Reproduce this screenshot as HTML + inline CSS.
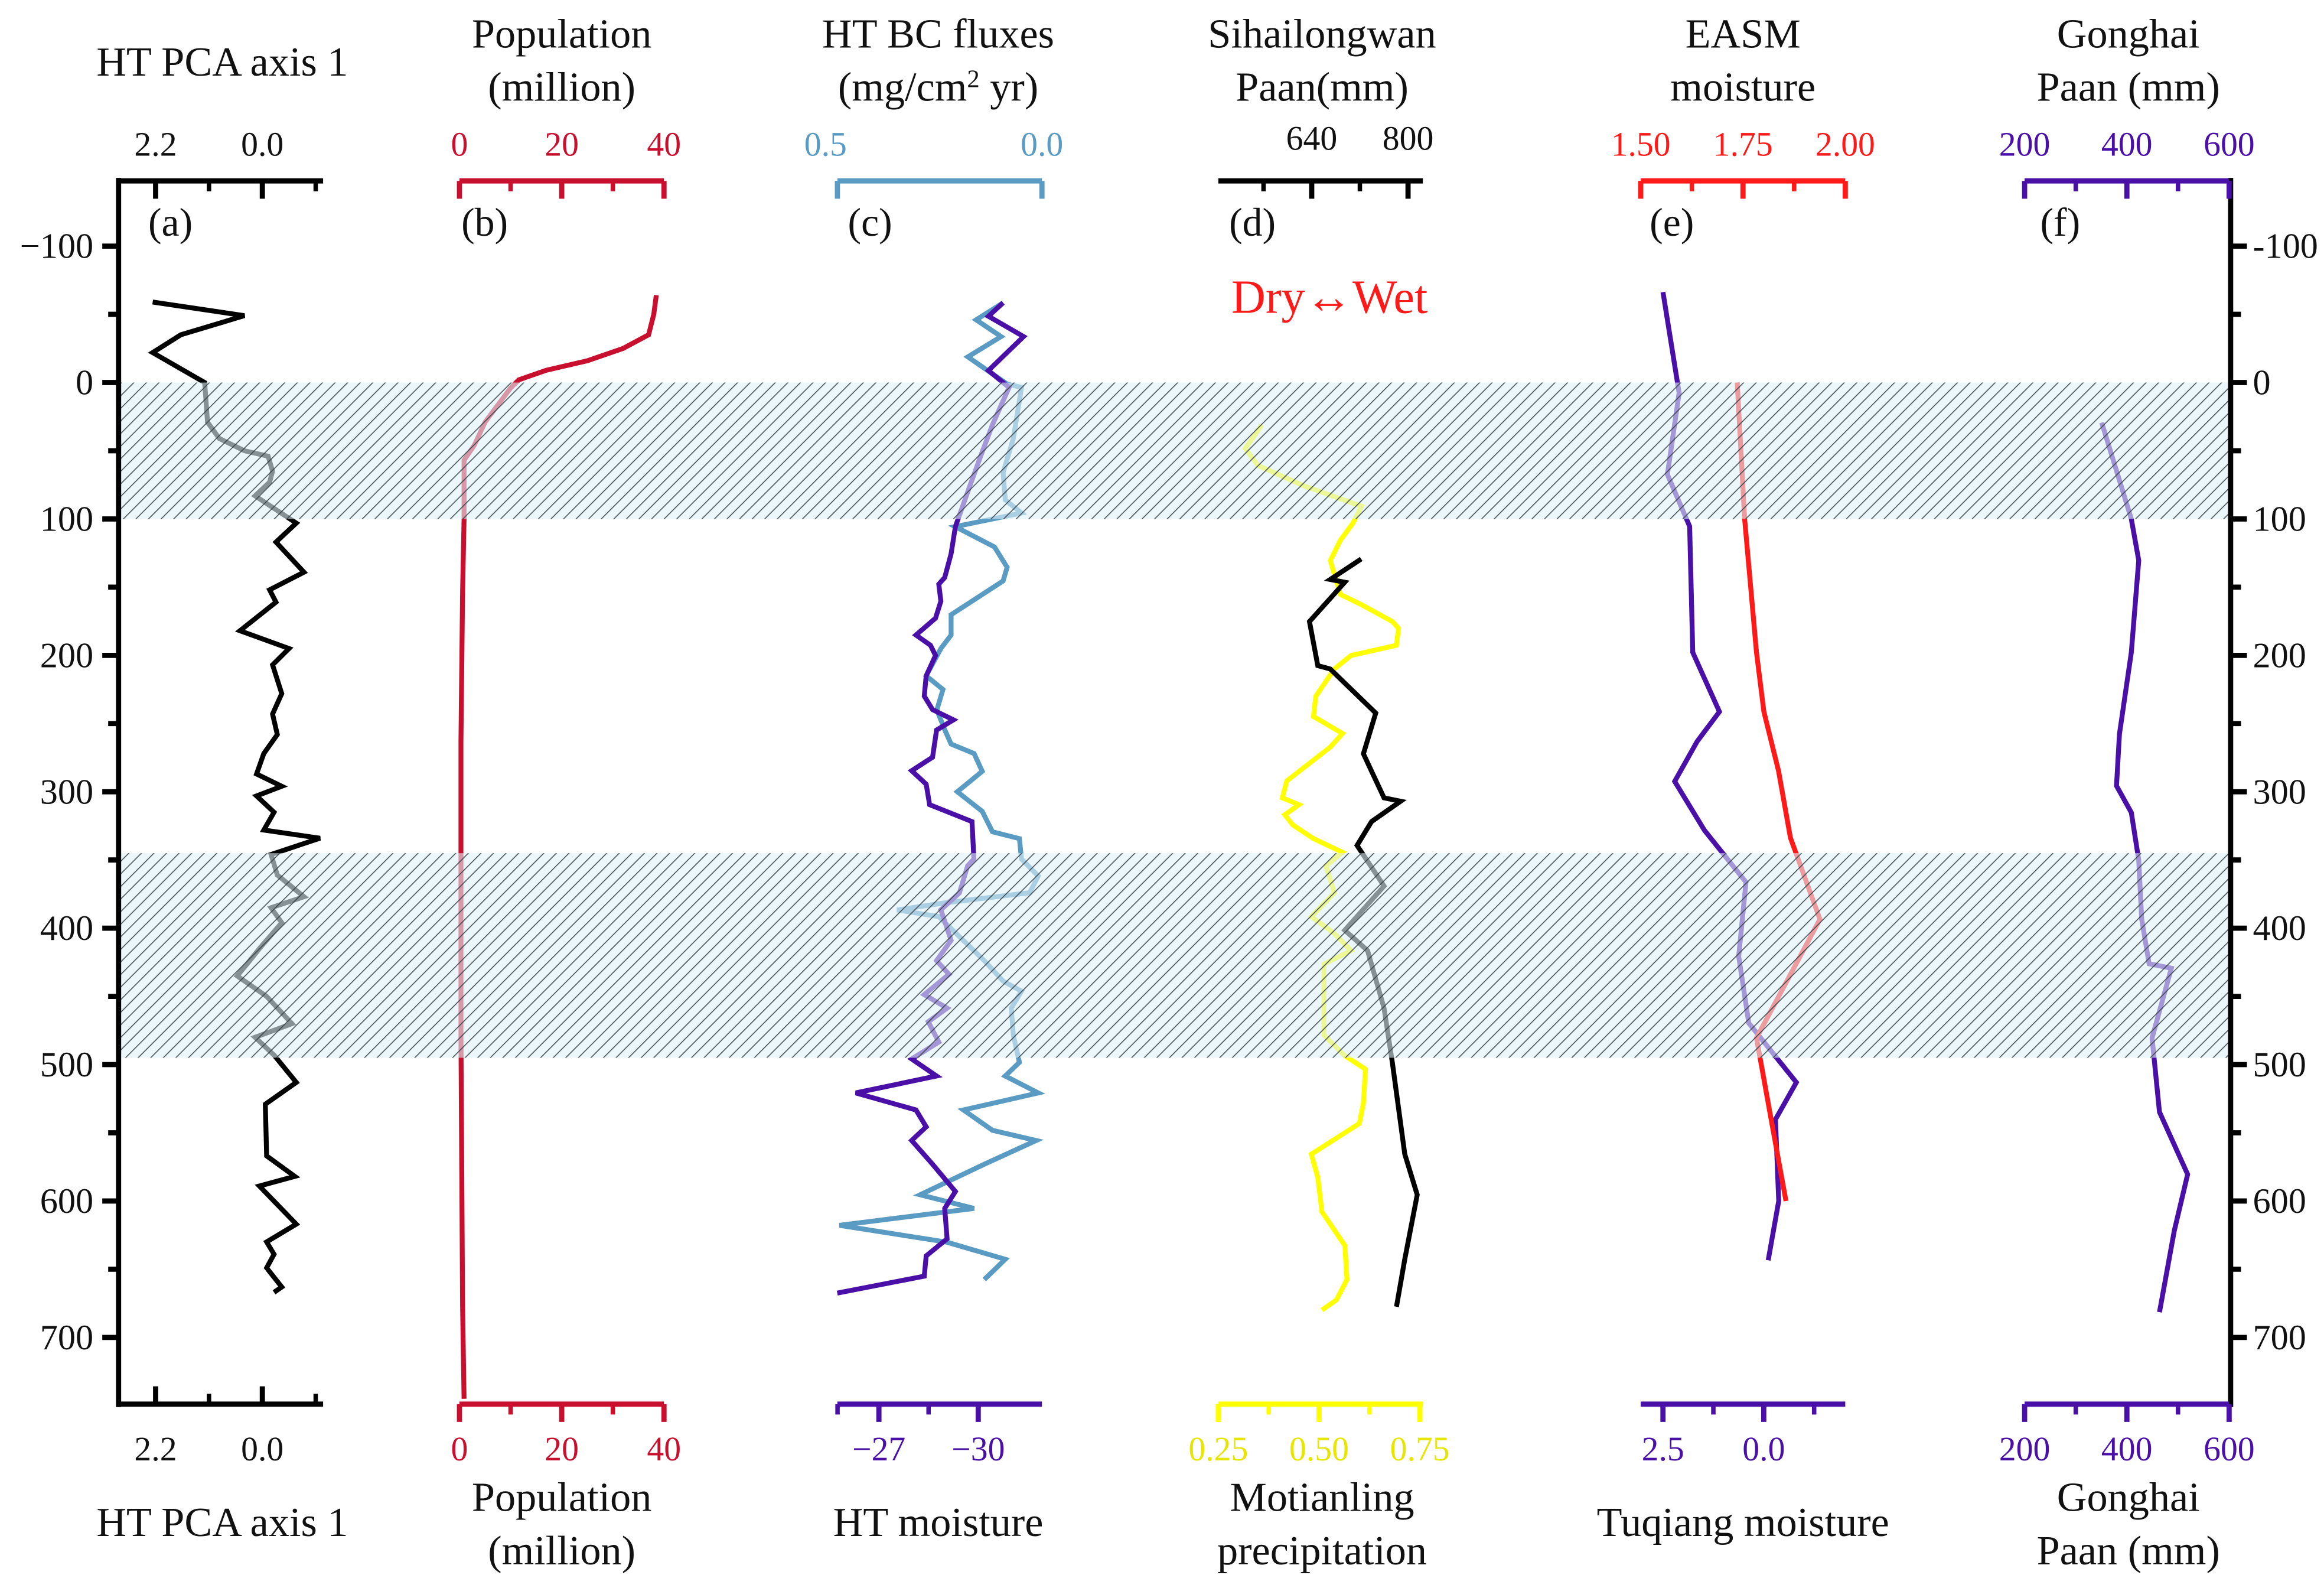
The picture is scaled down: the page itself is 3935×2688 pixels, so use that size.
<!DOCTYPE html>
<html><head><meta charset="utf-8">
<style>
html,body{margin:0;padding:0;background:#fff;}
svg{display:block;font-family:"Liberation Serif",serif;}
</style></head>
<body>
<svg id="chart" xmlns="http://www.w3.org/2000/svg" width="3935" height="2688" viewBox="0 0 1568 1071" preserveAspectRatio="none">
<defs>
<pattern id="hatch" patternUnits="userSpaceOnUse" width="6" height="6" patternTransform="rotate(45)">
<line x1="0" y1="0" x2="0" y2="6" stroke="#2f3a40" stroke-width="1.3"/>
</pattern>
</defs>
<g id="marks"></g>
<g id="bands"></g>
<g id="axes"></g>
<g id="labels"></g>
</svg>
<script>
// ---- data (depth = year axis, values in native units) ----
const pcaDepth=[-59,-49,-35,-22,0,29,41,50,54,65,73,83,103,117,139,152,161,182,195,207,228,243,258,272,287,296,303,315,328,334,346,361,377,385,396,415,426,435,450,470,480,493,513,529,567,582,589,617,630,639,649,663,667];
const pcaVal=[2.26,0.37,1.68,2.26,1.19,1.13,0.89,0.37,-0.12,-0.21,-0.15,0.15,-0.70,-0.28,-0.86,-0.15,-0.28,0.46,-0.55,-0.21,-0.40,-0.21,-0.31,-0.03,0.12,-0.40,0.12,-0.24,-0.03,-1.19,-0.18,-0.31,-0.86,-0.18,-0.40,0.06,0.31,0.52,-0.09,-0.61,0.15,-0.24,-0.70,-0.06,-0.09,-0.67,0.06,-0.70,-0.09,-0.24,-0.09,-0.40,-0.24];
const popDepth=[-64,-50,-35,-25,-16,-9,-2,4,18,29,46,57,100,154,263,480,676,745];
const popVal=[38.5,38,37,32,25,17,11.6,10,7.2,5,2.9,0.9,0.9,0.6,0.3,0.3,0.6,0.9];
const bcDepth=[-58.5,-46,-33.7,-18.8,1.1,3.6,41,66,86,95.6,105.6,120.5,135.4,145.4,170.2,185.1,195,215,225,240,255,265,272,285,300,314.4,329.4,334.3,349.3,361.7,374,381.6,386.6,391.5,409,423.8,438.8,446.2,458.6,478.5,498.4,508.4,520.8,533.3,548.2,555.6,573,595.4,605.4,617.8,630.2,642.7,657.6];
const bcVal=[0.095,0.161,0.100,0.181,0.085,0.050,0.070,0.095,0.090,0.050,0.212,0.116,0.085,0.095,0.222,0.222,0.247,0.283,0.242,0.257,0.237,0.222,0.166,0.146,0.207,0.146,0.121,0.055,0.050,0.009,0.030,0.242,0.354,0.252,0.192,0.141,0.095,0.050,0.075,0.070,0.055,0.090,0.009,0.192,0.121,0.014,0.141,0.298,0.166,0.495,0.232,0.090,0.141];
const htmDepth=[-58.5,-48.6,-33.7,-8.8,3.6,31,50.9,75.7,105.6,125.5,142.9,147.8,160.3,172.7,185.1,192.6,200.1,215,229.9,239.8,247.3,254.8,274.7,284.6,294.5,309.5,321.9,349.3,354.2,374.1,386.5,408.9,423.8,433.8,448.7,458.6,468.6,483.5,495.9,508.4,520.8,533.3,545.7,555.6,573,593,605.4,627.7,640.2,655.1,667.5];
const htmVal=[-30.75,-30.31,-31.37,-30.31,-30.93,-30.43,-30.12,-29.75,-29.31,-29.18,-28.99,-28.81,-28.87,-28.71,-28.12,-28.56,-28.71,-28.43,-28.37,-28.62,-29.25,-28.74,-28.62,-27.99,-28.43,-28.53,-29.81,-29.87,-29.68,-29.43,-28.87,-29.18,-28.74,-29.12,-28.37,-29.06,-28.49,-28.81,-27.99,-28.74,-26.30,-28.12,-28.43,-27.99,-28.62,-29.31,-28.99,-29.06,-28.43,-28.37,-25.74];
const motDepth=[31,48.4,60.8,75.7,90.7,103.1,115.5,130.4,140.4,155.3,162.8,175.2,180.2,192.6,200.1,210,229.9,244.8,257.3,267.2,292.1,304.5,309.5,316.9,324.4,334.3,344.3,354.2,374.1,391.5,403.9,416.4,426.3,453.7,478.5,493.5,503.4,528.3,543.2,565.6,583,607.8,632.7,657.6,672.5,680];
const motVal=[0.358,0.317,0.348,0.461,0.605,0.584,0.553,0.528,0.538,0.553,0.605,0.682,0.697,0.692,0.579,0.538,0.492,0.486,0.558,0.528,0.420,0.409,0.450,0.415,0.435,0.486,0.558,0.517,0.538,0.481,0.538,0.579,0.512,0.512,0.512,0.564,0.615,0.610,0.600,0.481,0.497,0.507,0.564,0.569,0.543,0.507];
const sihDepth=[129.4,144.4,146.4,175.2,207.5,210,242.3,272.2,304.5,307,321.9,339.3,369.1,401.5,416.4,458.6,498.4,565.6,595.4,642.7,677.5];
const sihVal=[722.3,670.7,694.8,636.3,650.1,670.7,746.4,725.8,760.2,787.7,739.5,715.4,760.2,694.8,732.7,760.2,774.0,794.6,815.3,794.6,780.9];
const easmDepth=[0,100,197.8,241.3,284.8,333.7,393.5,480.4,545.7,600];
const easmVal=[1.736,1.754,1.783,1.801,1.837,1.866,1.938,1.783,1.822,1.855];
const tuqDepth=[-66.3,7.6,67.4,105.4,197.8,241.3,263,292.4,328.3,366.3,420.7,469.6,513,540.2,600,643.5];
const tuqVal=[2.5,2.10,2.39,1.84,1.76,1.10,1.65,2.21,1.47,0.44,0.62,0.37,-0.81,-0.29,-0.37,-0.11];
const gonDepth=[29.3,100,130.4,197.8,257.6,295.7,315.2,350,393.5,426.1,429.3,480.4,534.8,580.4,621.7,681.5];
const gonVal=[350.7,408.7,423.2,408.7,385.5,379.7,408.7,423.2,429,443.5,487,449.3,463.8,518.8,492.8,463.8];
const depthTicks=[-100,0,100,200,300,400,500,600,700];
const bandStarts=[0,345];
const bandEnds=[100,495];

// ---- scales ----
const NS="http://www.w3.org/2000/svg";
const Y=d=>258+0.92*d;
const lin=(v0,x0,v1,x1)=>v=>x0+(v-v0)*(x1-x0)/(v1-v0);
const xPca=lin(2.2,105,0,177);
const xPop=lin(0,310,40,448);
const xBc=lin(0.5,565,0,703);
const xHtm=lin(-27,593,-30,660);
const xMot=lin(0.25,822,0.75,958);
const xSih=lin(640,885,800,950);
const xEasm=lin(1.5,1107,2.0,1245);
const xTuq=lin(2.5,1122,0,1190);
const xGon=lin(200,1366,600,1504);

function el(tag,attrs,parent){const e=document.createElementNS(NS,tag);for(const k in attrs)e.setAttribute(k,attrs[k]);parent.appendChild(e);return e;}
const marks=document.getElementById('marks'),bands=document.getElementById('bands'),axes=document.getElementById('axes'),labels=document.getElementById('labels');

function series(depths,vals,xf,color,name,w){
  const pts=depths.map((d,i)=>xf(vals[i]).toFixed(1)+','+Y(d).toFixed(1)).join(' ');
  const p=el('polyline',{points:pts,fill:'none',stroke:color,'stroke-width':w||3.3,'stroke-linejoin':'miter'},marks);
  
  
}
series(pcaDepth,pcaVal,xPca,'#000','pca-line');
series(popDepth,popVal,xPop,'#c8102e','population-line');
series(bcDepth,bcVal,xBc,'#5a9bc4','bc-flux-line');
series(htmDepth,htmVal,xHtm,'#4a0fa6','ht-moisture-line');
series(motDepth,motVal,xMot,'#ffff00','motianling-line');
series(sihDepth,sihVal,xSih,'#000','sihailongwan-line');
series(tuqDepth,tuqVal,xTuq,'#4a0fa6','tuqiang-line');
series(easmDepth,easmVal,xEasm,'#ff1a1a','easm-line');
series(gonDepth,gonVal,xGon,'#4a0fa6','gonghai-line');

bandStarts.forEach((s,i)=>{
  const r=el('rect',{x:80,y:Y(s),width:1425,height:Y(bandEnds[i])-Y(s),fill:'#dff1f9','fill-opacity':0.6},bands);
  
  
  const h=el('rect',{x:80,y:Y(s),width:1425,height:Y(bandEnds[i])-Y(s),fill:'url(#hatch)','fill-opacity':0.85},bands);
  
  
});

function text(x,y,s,opts,name){
  const t=el('text',{x:x,y:y,'font-size':opts.size||28,fill:opts.fill||'#111','text-anchor':opts.anchor||'middle'},labels);
  t.textContent=s;
  
  
  return t;
}
function line(x1,y1,x2,y2,c,w,name){
  const l=el('line',{x1:x1,y1:y1,x2:x2,y2:y2,stroke:c,'stroke-width':w||3.5},axes);
  
  
}
// depth axes
line(80,120,80,949,'#000',3.5,'left-axis');
line(1505,120,1505,949,'#000',3.5,'right-axis');
for(let d=-100;d<=700;d+=50){
  const major=d%100===0;
  line(69+(major?0:4),Y(d),80,Y(d),'#000',3.5,'left-tick');
  line(1505,Y(d),1516-(major?0:4),Y(d),'#000',3.5,'right-tick');
}
depthTicks.forEach(d=>{
  text(63,Y(d)+8,d<0?'\u2212'+(-d):String(d),{size:24,anchor:'end'},'left-tick-label');
  text(1520,Y(d)+8,d<0?'-'+(-d):String(d),{size:24,anchor:'start'},'right-tick-label');
});

function hAxis(y,x0,x1,ticks,minor,xf,c,dir,name){
  line(x0,y,x1,y,c,3.5,name);
  ticks.forEach(v=>line(xf(v),y,xf(v),y+dir*12,c,3.5,name+'-tick'));
  minor.forEach(v=>line(xf(v),y,xf(v),y+dir*7,c,3,name+'-minor-tick'));
}
// top axes
hAxis(122,80,218,[2.2,0],[1.1,-1.1],xPca,'#000',1,'pca-top-axis');
hAxis(122,310,448,[0,20,40],[10,30],xPop,'#c8102e',1,'population-top-axis');
hAxis(122,565,703,[0.5,0],[],xBc,'#5a9bc4',1,'bc-top-axis');
hAxis(122,822,960,[640,800],[560,720],xSih,'#000',1,'sihailongwan-top-axis');
hAxis(122,1107,1245,[1.5,1.75,2.0],[1.625,1.875],xEasm,'#ff1a1a',1,'easm-top-axis');
hAxis(122,1366,1504,[200,400,600],[300,500],xGon,'#4a0fa6',1,'gonghai-top-axis');
// bottom axes
hAxis(947,80,218,[2.2,0],[1.1,-1.1],xPca,'#000',-1,'pca-bottom-axis');
hAxis(947,310,448,[0,20,40],[10,30],xPop,'#c8102e',1,'population-bottom-axis');
hAxis(947,565,703,[-27,-30],[-25.75,-28.5],xHtm,'#4a0fa6',1,'htm-bottom-axis');
hAxis(947,822,960,[0.25,0.5,0.75],[0.375,0.625],xMot,'#ffff00',1,'motianling-bottom-axis');
hAxis(947,1107,1245,[2.5,0],[1.25,-1.25],xTuq,'#4a0fa6',1,'tuqiang-bottom-axis');
hAxis(947,1366,1504,[200,400,600],[300,500],xGon,'#4a0fa6',1,'gonghai-bottom-axis');

// tick labels
const TT=105,BT=985,TS=23;
[['2.2',xPca(2.2)],['0.0',xPca(0)]].forEach(a=>{text(a[1],TT,a[0],{size:TS},'pca-tick-label');text(a[1],BT,a[0],{size:TS},'pca-tick-label');});
[['0',xPop(0)],['20',xPop(20)],['40',xPop(40)]].forEach(a=>{text(a[1],TT,a[0],{size:TS,fill:'#c8102e'},'population-tick-label');text(a[1],BT,a[0],{size:TS,fill:'#c8102e'},'population-tick-label');});
[['0.5',xBc(0.5)-8],['0.0',xBc(0)]].forEach(a=>text(a[1],TT,a[0],{size:TS,fill:'#5a9bc4'},'bc-tick-label'));
[['\u221227',xHtm(-27)],['\u221230',xHtm(-30)]].forEach(a=>text(a[1],BT,a[0],{size:TS,fill:'#4a0fa6'},'htm-tick-label'));
[['640',xSih(640)],['800',xSih(800)]].forEach(a=>text(a[1],TT-4,a[0],{size:TS},'sihailongwan-tick-label'));
[['0.25',xMot(0.25)],['0.50',xMot(0.5)],['0.75',xMot(0.75)]].forEach(a=>text(a[1],BT,a[0],{size:TS,fill:'#e6e600'},'motianling-tick-label'));
[['1.50',xEasm(1.5)],['1.75',xEasm(1.75)],['2.00',xEasm(2.0)]].forEach(a=>text(a[1],TT,a[0],{size:TS,fill:'#ff1a1a'},'easm-tick-label'));
[['2.5',xTuq(2.5)],['0.0',xTuq(0)]].forEach(a=>text(a[1],BT,a[0],{size:TS,fill:'#4a0fa6'},'tuqiang-tick-label'));
[['200',xGon(200)],['400',xGon(400)],['600',xGon(600)]].forEach(a=>{text(a[1],TT,a[0],{size:TS,fill:'#4a0fa6'},'gonghai-tick-label');text(a[1],BT,a[0],{size:TS,fill:'#4a0fa6'},'gonghai-tick-label');});

// titles
text(150,51,'HT PCA axis 1',{},'pca-title');
text(379,32,'Population',{},'population-title');
text(379,68,'(million)',{},'population-unit');
text(633,32,'HT BC fluxes',{},'bc-title');
const u=text(633,68,'(mg/cm',{},'bc-unit');
const sup=document.createElementNS(NS,'tspan');sup.setAttribute('baseline-shift','super');sup.setAttribute('font-size','17');sup.textContent='2';u.appendChild(sup);
const rest=document.createElementNS(NS,'tspan');rest.textContent=' yr)';u.appendChild(rest);
text(892,32,'Sihailongwan',{},'sihailongwan-title');
text(892,68,'Paan(mm)',{},'sihailongwan-unit');
text(1176,32,'EASM',{},'easm-title');
text(1176,68,'moisture',{},'easm-unit');
text(1436,32,'Gonghai',{},'gonghai-title');
text(1436,68,'Paan (mm)',{},'gonghai-unit');
// bottom titles
text(150,1036,'HT PCA axis 1',{},'pca-bottom-title');
text(379,1019,'Population',{},'population-bottom-title');
text(379,1055,'(million)',{},'population-bottom-unit');
text(633,1036,'HT moisture',{},'htm-bottom-title');
text(892,1019,'Motianling',{},'motianling-bottom-title');
text(892,1055,'precipitation',{},'motianling-bottom-unit');
text(1176,1036,'Tuqiang moisture',{},'tuqiang-bottom-title');
text(1436,1019,'Gonghai',{},'gonghai-bottom-title');
text(1436,1055,'Paan (mm)',{},'gonghai-bottom-unit');
// panel letters
[['(a)',115],['(b)',327],['(c)',587],['(d)',845],['(e)',1128],['(f)',1390]].forEach(a=>text(a[1],159,a[0],{size:27},'panel-letter'));
text(897,211,'Dry\u2194Wet',{size:32,fill:'#ff1a1a'},'dry-wet-annotation');
</script>
</body></html>
